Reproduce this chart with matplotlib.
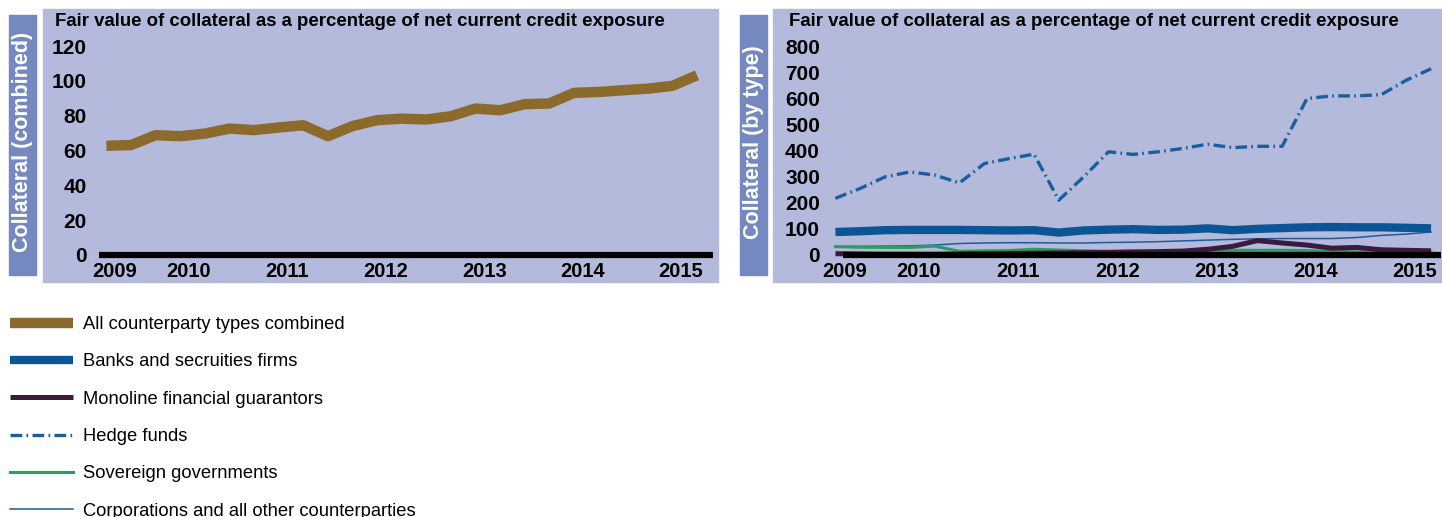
import matplotlib
matplotlib.use("Agg")
import matplotlib.pyplot as plt
from matplotlib.patches import Rectangle
import numpy as np

# quarterly points, 2009 .. 2015
quarters = np.arange(25)
year_labels = ['2009', '2010', '2011', '2012', '2013', '2014', '2015']
year_ticks = [0.35, 3.35, 7.35, 11.35, 15.35, 19.35, 23.35]

combined = [62.7, 63.1, 68.8, 68.2, 69.7, 72.6, 71.7, 73.2, 74.5, 68.2, 74.0, 77.4, 78.3,
            77.8, 79.7, 84.1, 83.1, 86.6, 87.0, 93.1, 93.6, 94.6, 95.5, 97.1, 103.2]
banks = [88, 91, 95, 96, 96, 96, 95, 94, 95, 86, 94, 97, 99,
         96, 97, 102, 95, 100, 103, 106, 107, 106, 106, 104, 102]
monoline = [5, 4, 3, 3, 3, 4, 5, 6, 7, 8, 9, 10, 12,
            13, 15, 22, 33, 55, 46, 38, 26, 29, 20, 18, 16]
hedge = [217, 255, 299, 318, 306, 276, 350, 369, 386, 210, 299, 395, 385,
         395, 408, 424, 411, 416, 416, 599, 609, 609, 614, 669, 713]
sovereign = [32, 30, 29, 29, 34, 14, 16, 17, 22, 19, 16, 14, 13,
             13, 14, 17, 18, 18, 18, 17, 14, 12, 11, 10, 10]
corporate = [32, 33, 34, 35, 38, 44, 46, 47, 47, 46, 46, 48, 49,
             51, 54, 57, 60, 62, 63, 63, 63, 67, 75, 80, 88]

W, H = 1442, 517
BG = '#b3badb'
BOX = '#7688c0'
title = 'Fair value of collateral as a percentage of net current credit exposure'
sans = ['Liberation Sans', 'DejaVu Sans']

plt.rcParams['font.family'] = sans

fig = plt.figure(figsize=(W / 100, H / 100), dpi=100)


def box(x0, y0, x1, y1):
    # pixel box (top-left origin) -> figure fractions
    return [x0 / W, 1 - y1 / H, (x1 - x0) / W, (y1 - y0) / H]


def panel(px0, px1, lab_x0, lab_x1, ylabel):
    fig.add_artist(Rectangle((px0 / W, 1 - 282 / H), (px1 - px0) / W, 273 / H,
                             transform=fig.transFigure, color=BG, zorder=0))
    fig.add_artist(Rectangle((lab_x0 / W, 1 - 275 / H), (lab_x1 - lab_x0) / W, 260 / H,
                             transform=fig.transFigure, color=BOX, zorder=0))
    fig.text((lab_x0 + lab_x1) / 2 / W + 0.5 / W, 1 - 142 / H, ylabel, rotation=90,
             ha='center', va='center', color='white', fontsize=15.5, fontweight='bold')


def style_axes(ax, ymax, ystep, ypad):
    ax.set_facecolor('none')
    for s in ax.spines.values():
        s.set_visible(False)
    ax.set_ylim(0, ymax)
    ax.set_yticks(np.arange(0, ymax + 1, ystep))
    ax.set_xticks(year_ticks)
    ax.set_xticklabels(year_labels)
    ax.tick_params(length=0, labelsize=15, pad=5)
    ax.tick_params(axis='y', pad=ypad)
    for lab in ax.get_xticklabels() + ax.get_yticklabels():
        lab.set_fontweight('bold')
    for lab in ax.get_xticklabels():
        lab.set_fontsize(14.5)


# left panel
panel(43, 718, 9, 36, 'Collateral (combined)')
ax1 = fig.add_axes(box(99, 46, 713, 255))
style_axes(ax1, 120, 20, 9)
ax1.set_xlim(-0.3, 24.65)
ax1.axhline(0, color='black', lw=4.5, solid_capstyle='butt', clip_on=False, zorder=5)
l_comb, = ax1.plot(quarters, combined, color='#8c6a2c', lw=7.5,
                   solid_capstyle='butt', clip_on=False, zorder=3)
fig.text(55 / W, 1 - 21 / H, title, fontsize=13.4, fontweight='bold', va='center', ha='left')

# right panel
panel(773, 1442, 740, 767, 'Collateral (by type)')
ax2 = fig.add_axes(box(831, 46, 1441, 255))
style_axes(ax2, 800, 100, 8)
ax2.set_xlim(-0.18, 24.4)
l_corp, = ax2.plot(quarters, corporate, color='#1f5a9c', lw=1.1, clip_on=False, zorder=3)
l_sov, = ax2.plot(quarters, sovereign, color='#2e9c5c', lw=2.2, clip_on=False, zorder=3)
l_mono, = ax2.plot(quarters, monoline, color='#3b1a3e', lw=3.6,
                   solid_capstyle='butt', clip_on=False, zorder=3)
l_bank, = ax2.plot(quarters, banks, color='#0b5596', lw=6,
                   solid_capstyle='butt', clip_on=False, zorder=3)
l_hedge, = ax2.plot(quarters, hedge, color='#1b5e9e', lw=2.4,
                    ls=(0, (3.5, 1.3, 0.5, 1.3)), clip_on=False, zorder=3)
ax2.axhline(0, xmin=0.02, xmax=1, color='black', lw=4.5,
            solid_capstyle='butt', clip_on=False, zorder=5)
fig.text(789 / W, 1 - 21 / H, title, fontsize=13.4, fontweight='bold', va='center', ha='left')

handles = [l_comb, l_bank, l_mono, l_hedge, l_sov, l_corp]
labels = ['All counterparty types combined', 'Banks and secruities firms',
          'Monoline financial guarantors', 'Hedge funds', 'Sovereign governments',
          'Corporations and all other counterparties']
fig.legend(handles, labels, loc='upper left', bbox_to_anchor=(10 / W, 1 - 316 / H),
           frameon=False, fontsize=13.2, borderpad=0, borderaxespad=0,
           handlelength=3.45, handletextpad=0.55, labelspacing=1.11)

fig.savefig('out.png', dpi=100)
